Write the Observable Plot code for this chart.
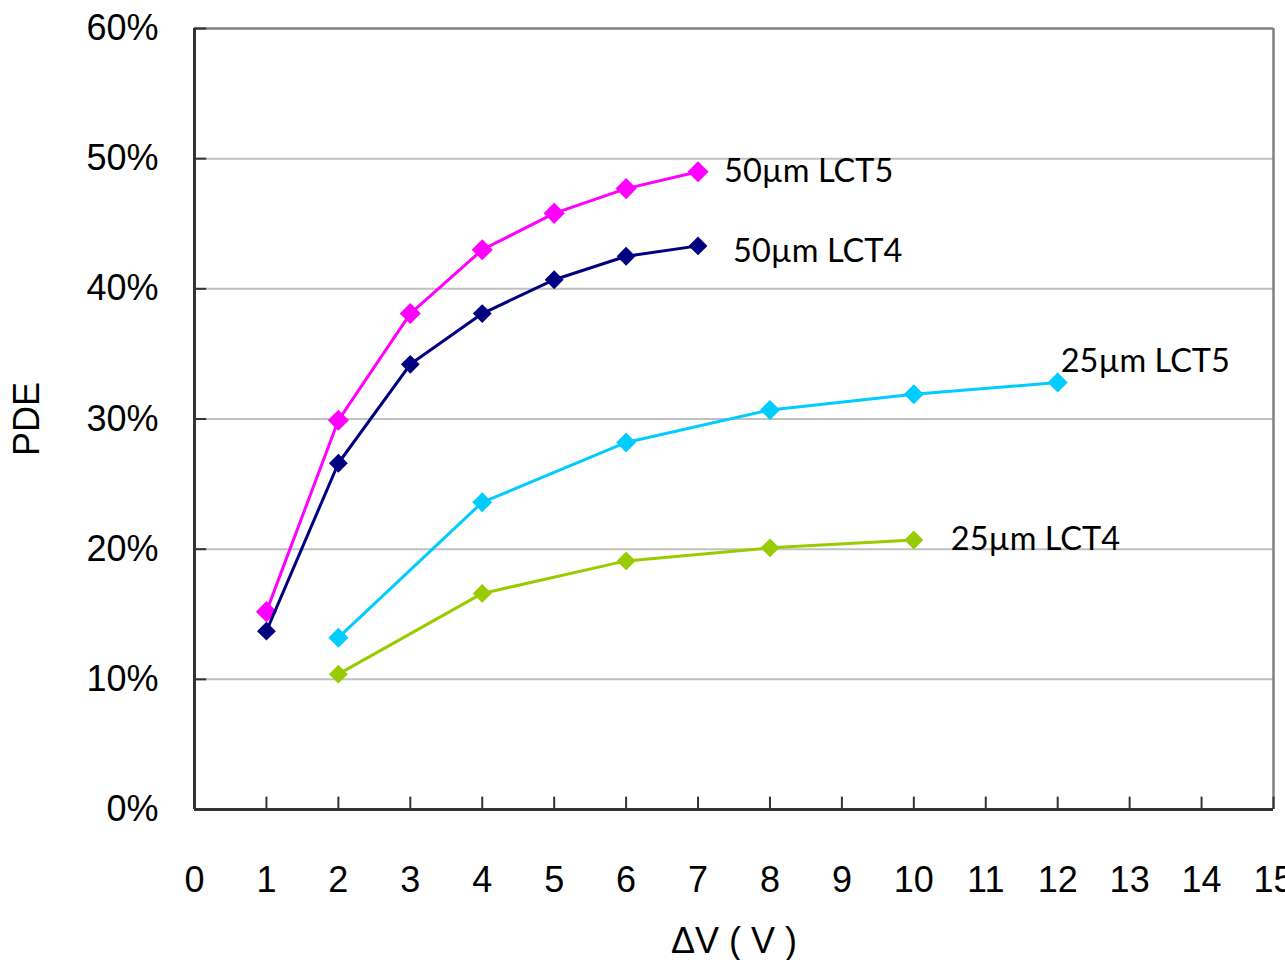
<!DOCTYPE html>
<html>
<head>
<meta charset="utf-8">
<script src="https://cdn.jsdelivr.net/npm/d3@7"></script>
<script src="https://cdn.jsdelivr.net/npm/@observablehq/plot@0.6"></script>
<style>
  html, body { margin: 0; padding: 0; background: #fff; }
  #chart { width: 1285px; height: 960px; }
</style>
</head>
<body>
<div id="chart"></div>
<script>
// ---- data ----
const x50 = [1, 2, 3, 4, 5, 6, 7];
const pde50LCT5 = [15.2, 29.9, 38.1, 43.0, 45.8, 47.7, 49.0];
const pde50LCT4 = [13.7, 26.6, 34.2, 38.1, 40.7, 42.5, 43.3];
const x25LCT5 = [2, 4, 6, 8, 10, 12];
const pde25LCT5 = [13.2, 23.6, 28.2, 30.7, 31.9, 32.8];
const x25LCT4 = [2, 4, 6, 8, 10];
const pde25LCT4 = [10.4, 16.6, 19.1, 20.1, 20.7];
const seriesNames = ["50µm LCT5", "50µm LCT4", "25µm LCT5", "25µm LCT4"];
const seriesColors = ["#ff00ff", "#000080", "#00ccff", "#99cc00"];
const xTicks = d3.range(0, 16);
const yTicks = [0, 10, 20, 30, 40, 50, 60];
const xLabel = "ΔV ( V )";
const yLabel = "PDE";

const series = [
  {name: seriesNames[0], color: seriesColors[0], pts: x50.map((x, i) => ({x, y: pde50LCT5[i]})), dx: 26, dy: 0, r: 9.5},
  {name: seriesNames[1], color: seriesColors[1], pts: x50.map((x, i) => ({x, y: pde50LCT4[i]})), dx: 35, dy: 6, r: 8.5},
  {name: seriesNames[2], color: seriesColors[2], pts: x25LCT5.map((x, i) => ({x, y: pde25LCT5[i]})), dx: 3, dy: -21, r: 9},
  {name: seriesNames[3], color: seriesColors[3], pts: x25LCT4.map((x, i) => ({x, y: pde25LCT4[i]})), dx: 37, dy: 0, r: 8.5}
];

const marks = [
  Plot.ruleY(yTicks.filter(d => d > 0 && d < 60), {stroke: "#c0c0c0", strokeWidth: 2}),
  // frame: top/right gray, left/bottom dark
  Plot.ruleY([60], {stroke: "#808080", strokeWidth: 2.5}),
  Plot.ruleX([15], {stroke: "#808080", strokeWidth: 2.5}),
  // inward ticks
  Plot.ruleX(xTicks, {x: d => d, y1: 0, y2: 0.95, stroke: "#333", strokeWidth: 2}),
  Plot.ruleY(yTicks, {y: d => d, x1: 0, x2: 0.17, stroke: "#333", strokeWidth: 2}),
  Plot.ruleX([0], {stroke: "#333", strokeWidth: 3}),
  Plot.ruleY([0], {stroke: "#333", strokeWidth: 3}),
  Plot.axisX({ticks: xTicks, tickSize: 0, tickPadding: 57, fontSize: 36, label: xLabel, labelAnchor: "center", labelOffset: 143, labelArrow: "none"}),
  Plot.axisY({ticks: yTicks, tickSize: 0, tickPadding: 36, fontSize: 36, tickFormat: d => d + "%", label: yLabel, labelAnchor: "center", labelOffset: 181, labelArrow: "none"})
];
for (const s of series) {
  marks.push(Plot.line(s.pts, {x: "x", y: "y", stroke: s.color, strokeWidth: 3}));
  marks.push(Plot.dot(s.pts, {x: "x", y: "y", fill: s.color, symbol: "diamond2", r: s.r}));
  marks.push(Plot.text([s.pts[s.pts.length - 1]], {x: "x", y: "y", text: () => s.name, textAnchor: "start", dx: s.dx, dy: s.dy, fontSize: 32.5, fontFamily: "Lato", fill: "#000"}));
}

const chart = Plot.plot({
  width: 1285,
  height: 960,
  marginLeft: 194,
  marginRight: 12,
  marginTop: 28,
  marginBottom: 151,
  style: {fontFamily: "'Liberation Sans', Arial, sans-serif", fontSize: "36px", color: "#000", background: "#fff"},
  x: {domain: [0, 15]},
  y: {domain: [0, 60]},
  marks
});
document.getElementById("chart").appendChild(chart);
</script>
</body>
</html>
